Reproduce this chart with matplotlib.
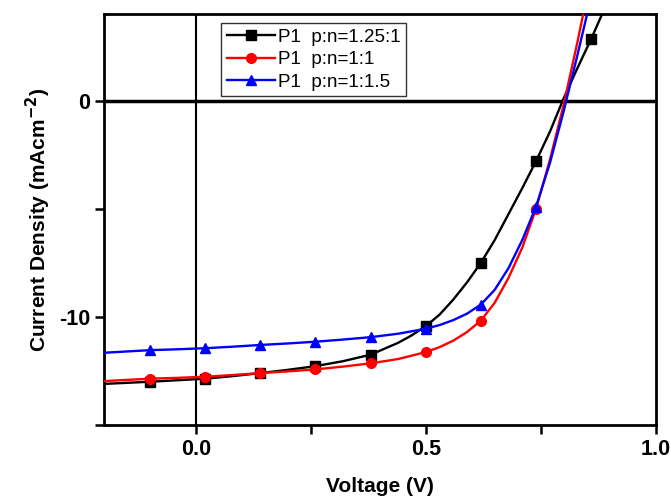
import matplotlib
matplotlib.use("Agg")
import matplotlib.pyplot as plt
from matplotlib.ticker import FixedLocator

plt.rcParams['font.family'] = ['Liberation Sans', 'DejaVu Sans']
plt.rcParams['axes.unicode_minus'] = False

# Voltage sample points (V)
v_black = [-0.2, -0.1, -0.04, 0.02, 0.08, 0.14, 0.20, 0.26, 0.32, 0.38, 0.44, 0.47, 0.50,
           0.53, 0.56, 0.59, 0.62, 0.65, 0.68, 0.71, 0.74, 0.77, 0.80, 0.83, 0.86, 0.89, 0.92]
j_black = [-13.1, -13.0, -12.93, -12.86, -12.74, -12.6, -12.45, -12.28, -12.05, -11.75, -11.2,
           -10.85, -10.43, -9.9, -9.2, -8.4, -7.5, -6.45, -5.25, -4.05, -2.8, -1.45, 0.1, 1.5,
           2.85, 4.3, 5.8]

v_red = [-0.2, -0.1, -0.04, 0.02, 0.08, 0.14, 0.20, 0.26, 0.32, 0.38, 0.44, 0.50, 0.53,
         0.56, 0.59, 0.62, 0.65, 0.68, 0.71, 0.74, 0.77, 0.80, 0.83, 0.86]
j_red = [-12.97, -12.86, -12.82, -12.77, -12.69, -12.6, -12.52, -12.43, -12.3, -12.15, -11.95,
         -11.63, -11.4, -11.1, -10.7, -10.17, -9.35, -8.2, -6.8, -5.0, -2.75, -0.2, 2.7, 5.8]

v_blue = [-0.2, -0.1, -0.04, 0.02, 0.08, 0.14, 0.20, 0.26, 0.32, 0.38, 0.44, 0.50, 0.53,
          0.56, 0.59, 0.62, 0.65, 0.68, 0.71, 0.74, 0.77, 0.80, 0.83, 0.86]
j_blue = [-11.66, -11.54, -11.5, -11.45, -11.38, -11.3, -11.23, -11.15, -11.05, -10.94, -10.78,
          -10.55, -10.38, -10.15, -9.85, -9.43, -8.75, -7.75, -6.45, -4.9, -2.9, -0.5, 2.1, 4.8]

# voltages where the markers sit
marker_v = [-0.1, 0.02, 0.14, 0.26, 0.38, 0.50, 0.62, 0.74, 0.86]

labels = ["P1  p:n=1.25:1", "P1  p:n=1:1", "P1  p:n=1:1.5"]
colors = ["black", "red", "blue"]
markers = ["s", "o", "^"]

x_major = [0.0, 0.5, 1.0]
x_major_labels = ["0.0", "0.5", "1.0"]
x_minor = [0.25, 0.75]
y_major = [-10, 0]
y_major_labels = ["-10", "0"]
y_minor = [-15, -5]

fig = plt.figure(figsize=(6.71, 5.0), dpi=100)
ax = fig.add_axes([0.155, 0.15, 0.822, 0.822])

ax.axhline(0, color='black', lw=2.5, zorder=1)
ax.axvline(0, color='black', lw=1.5, zorder=1)

series = [(v_black, j_black), (v_red, j_red), (v_blue, j_blue)]
for (v, j), lab, c, m in zip(series, labels, colors, markers):
    idx = [i for i, val in enumerate(v) if any(abs(val - mv) < 1e-9 for mv in marker_v)]
    ax.plot(v, j, color=c, lw=1.7, marker=m, markersize=7 if m != 's' else 6.5,
            markevery=idx, label=lab, zorder=3)

ax.set_xlim(-0.2, 1.0)
ax.set_ylim(-15, 4)
ax.xaxis.set_major_locator(FixedLocator(x_major))
ax.xaxis.set_minor_locator(FixedLocator(x_minor))
ax.yaxis.set_major_locator(FixedLocator(y_major))
ax.yaxis.set_minor_locator(FixedLocator(y_minor))
ax.set_xticklabels(x_major_labels)
ax.set_yticklabels(y_major_labels)
ax.tick_params(which='both', direction='out', width=1.8, length=6.5, top=False, right=False)
ax.tick_params(which='major', labelsize=15.5, pad=3.5)
for lbl in ax.get_xticklabels() + ax.get_yticklabels():
    lbl.set_fontweight('bold')
for s in ax.spines.values():
    s.set_linewidth(2.0)

ax.set_xlabel("Voltage (V)", fontsize=15, fontweight='bold', labelpad=12)
ax.set_ylabel("Current Density (mAcm$^{\\mathbf{-2}}$)", fontsize=15, fontweight='bold', labelpad=4)

leg = ax.legend(loc='upper left', bbox_to_anchor=(0.212, 0.978), borderaxespad=0,
                fontsize=13.5, frameon=True, fancybox=False, handlelength=2.6,
                handletextpad=0.15, labelspacing=0.28, borderpad=0.3)
leg.get_frame().set_edgecolor('black')
leg.get_frame().set_linewidth(1.0)
leg.set_zorder(5)

fig.savefig("out.png", dpi=100)
